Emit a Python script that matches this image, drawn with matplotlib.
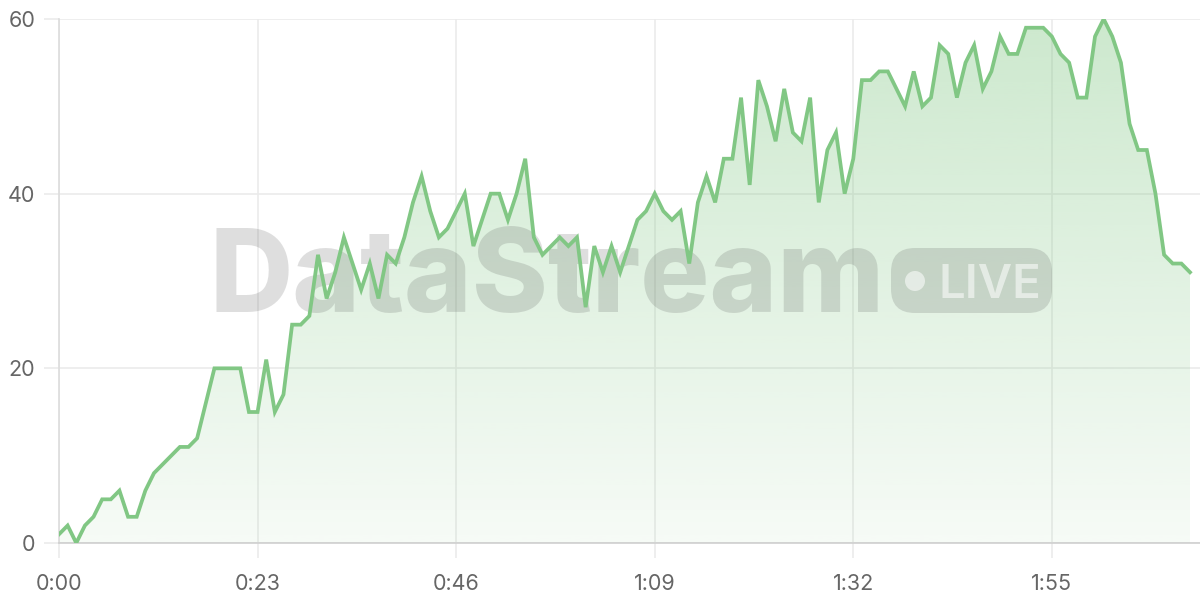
import numpy as np
import matplotlib
matplotlib.use("Agg")
import matplotlib.pyplot as plt
from matplotlib.patches import FancyBboxPatch, Circle
from matplotlib.transforms import IdentityTransform

# one reading per second
values = [1, 2, 0, 2, 3, 5, 5, 6, 3, 3, 6, 8, 9, 10, 11, 11, 12, 16, 20, 20,
          20, 20, 15, 15, 21, 15, 17, 25, 25, 26, 33, 28, 31, 35, 32, 29, 32, 28,
          33, 32, 35, 39, 42, 38, 35, 36, 38, 40, 34, 37, 40, 40, 37, 40, 44, 35,
          33, 34, 35, 34, 35, 27, 34, 31, 34, 31, 34, 37, 38, 40, 38, 37, 38, 32,
          39, 42, 39, 44, 44, 51, 41, 53, 50, 46, 52, 47, 46, 51, 39, 45, 47, 40,
          44, 53, 53, 54, 54, 52, 50, 54, 50, 51, 57, 56, 51, 55, 57, 52, 54, 58,
          56, 56, 59, 59, 59, 58, 56, 55, 51, 51, 58, 60, 58, 55, 48, 45, 45, 40,
          33, 32, 32, 31]
seconds = list(range(len(values)))

x_ticks = [0, 23, 46, 69, 92, 115]
x_labels = ["0:00", "0:23", "0:46", "1:09", "1:32", "1:55"]
y_ticks = [0, 20, 40, 60]

line_color = "#81c784"
grid_color = "#ebebeb"
text_color = "#666666"

plt.rcParams["font.family"] = ["Inter", "DejaVu Sans"]

fig = plt.figure(figsize=(12, 6), dpi=100)
ax = fig.add_axes([59 / 1200, 57 / 600, 1 - 59 / 1200, (543 - 19) / 600])

# gradient fill under the line
grad = np.zeros((256, 1, 4))
grad[:, 0, 0] = 129 / 255
grad[:, 0, 1] = 199 / 255
grad[:, 0, 2] = 132 / 255
grad[:, 0, 3] = np.linspace(0.40, 0.07, 256)
img = ax.imshow(grad, extent=[0, seconds[-1], 0, 60], aspect="auto",
                origin="upper", zorder=1, interpolation="bicubic")
poly = ax.fill_between(seconds, values, 0, color="none", lw=0)
clip = poly.get_paths()[0]
img.set_clip_path(clip, transform=ax.transData)

ax.plot(seconds, values, color=line_color, lw=2.7, zorder=4,
        solid_joinstyle="miter")

# watermark (pixel coordinates)
wm = (0.25, 0.25, 0.25, 0.17)
ax.text(210, 600 - 312, "DataStream", transform=IdentityTransform(),
        fontsize=83, fontweight="heavy", color=wm, ha="left", va="baseline",
        zorder=2, clip_on=False)
ax.add_patch(FancyBboxPatch((891, 600 - 313), 161, 65,
                            boxstyle="round,pad=0,rounding_size=24",
                            transform=IdentityTransform(), facecolor=wm,
                            edgecolor="none", zorder=2, clip_on=False))
ax.add_patch(Circle((915, 600 - 281), 10, transform=IdentityTransform(),
                    facecolor=(1, 1, 1, 0.55), edgecolor="none", zorder=2,
                    clip_on=False))
ax.text(939, 600 - 298, "LIVE", transform=IdentityTransform(), fontsize=34,
        fontweight="semibold", color=(1, 1, 1, 0.55), ha="left",
        va="baseline", zorder=2, clip_on=False)

ax.set_xlim(0, 1141 / (1131 / seconds[-1]))
ax.set_ylim(0, 60)
ax.set_xticks(x_ticks)
ax.set_xticklabels(x_labels)
ax.set_yticks(y_ticks)

ax.grid(True, color=grid_color, lw=1.2, zorder=0)
ax.set_axisbelow(True)
for side in ["top", "right"]:
    ax.spines[side].set_visible(False)
ax.spines["left"].set_color("#dcdcdc")
ax.spines["bottom"].set_color("#cfcfcf")
ax.spines["left"].set_linewidth(1.2)
ax.spines["bottom"].set_linewidth(1.2)
ax.tick_params(axis="both", length=11, width=1.2, color=grid_color,
               labelsize=15.5, labelcolor=text_color)
ax.tick_params(axis="x", pad=11)
ax.tick_params(axis="y", pad=6)

fig.savefig("out.png", dpi=100)
